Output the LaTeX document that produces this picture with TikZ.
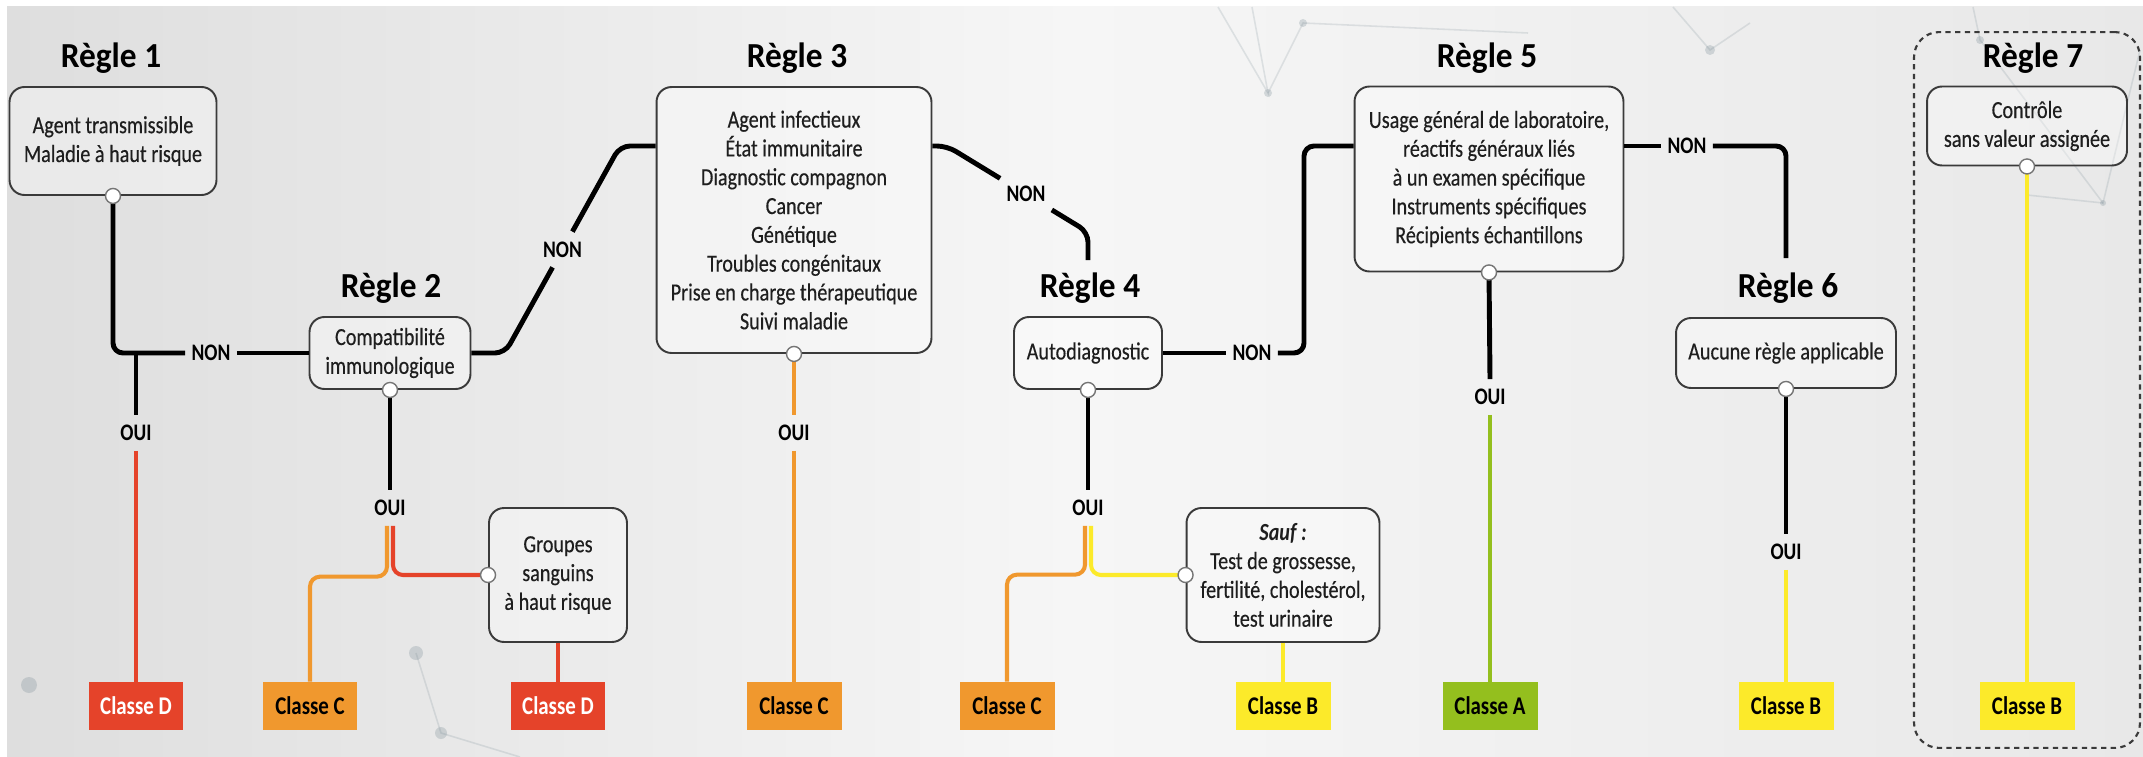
\documentclass[tikz,border=0pt]{standalone}
\usepackage{fontspec}
\setmainfont{Carlito}[FakeStretch=0.82,
  UprightFeatures={FakeBold=0.35},ItalicFeatures={FakeBold=0.35}]
\newfontfamily\titlefont{Carlito}[FakeStretch=0.95]
\usepackage{tikz}
\usetikzlibrary{calc,positioning}
\definecolor{boxgrey}{RGB}{58,58,58}
\definecolor{inkgrey}{RGB}{30,30,30}
\definecolor{classred}{RGB}{229,67,42}
\definecolor{classorange}{RGB}{240,152,46}
\definecolor{classyellow}{RGB}{252,234,42}
\definecolor{classgreen}{RGB}{148,191,30}
\definecolor{bgleft}{RGB}{222,222,222}
\definecolor{bgmid}{RGB}{246,246,246}
\definecolor{bgright}{RGB}{232,232,232}
\definecolor{netgrey}{RGB}{110,130,140}
\tikzset{
  rulebox/.style={draw=boxgrey,line width=1.1pt,rounded corners=0.3cm,
    fill=white,fill opacity=0.35,text opacity=1,align=center,inner sep=0pt,
    text=inkgrey,font=\fontsize{14}{16.4}\selectfont},
  ruletitle/.style={anchor=base,inner sep=0pt,
    font=\titlefont\bfseries\fontsize{20}{24}\selectfont},
  yesno/.style={inner xsep=3.5pt,inner ysep=5.5pt,
    font=\bfseries\fontsize{13.5}{15}\selectfont},
  classbox/.style={minimum width=1.9cm,minimum height=0.96cm,inner sep=0pt,
    font=\bfseries\fontsize{14.5}{16}\selectfont},
  dot/.style={circle,draw=boxgrey!70,line width=0.8pt,fill=white,
    minimum size=0.3cm,inner sep=0pt},
  blackline/.style={line width=2.8pt,draw=black,rounded corners=0.2cm},
  redline/.style={line width=2.3pt,draw=classred,rounded corners=0.2cm},
  orangeline/.style={line width=2.3pt,draw=classorange,rounded corners=0.2cm},
  yellowline/.style={line width=2.3pt,draw=classyellow,rounded corners=0.2cm},
  greenline/.style={line width=2.3pt,draw=classgreen,rounded corners=0.2cm}
}

\begin{document}
\begin{tikzpicture}[x=0.02cm,y=-0.02cm]
  \useasboundingbox (0,0) rectangle (2143,757);
  \fill[white] (0,0) rectangle (2143,757);
  \shade[left color=bgleft,right color=bgright,middle color=bgmid]
    (7,7) rectangle (2143,757);
  % faint network behind the chart
  \begin{scope}[draw=netgrey,draw opacity=0.18,line width=0.9pt]
    \draw (1218,7) -- (1268,93) -- (1252,7);
    \draw (1268,93) -- (1303,23) -- (1528,33);
    \draw (1673,7) -- (1710,50) -- (1750,23);
    \draw (1973,7) -- (1980,40) -- (2103,203) -- (2140,50);
    \draw (2027,195) -- (2103,203);
    \draw (416,653) -- (441,733) -- (520,757);
  \end{scope}
  \begin{scope}[fill=netgrey,fill opacity=0.25]
    \fill (1268,93) circle (4); \fill (1303,23) circle (4);
    \fill (1710,50) circle (5); \fill (1980,40) circle (4);
    \fill (2103,203) circle (3); \fill (29,685) circle (8);
    \fill (416,653) circle (7); \fill (441,733) circle (6);
  \end{scope}

  % titles
  \node[ruletitle] (t1) at (111,68) {Règle 1};
  \node[ruletitle] (t2) at (391,297) {Règle 2};
  \node[ruletitle] (t3) at (797,68) {Règle 3};
  \node[ruletitle] (t4) at (1090,297) {Règle 4};
  \node[ruletitle] (t5) at (1487,68) {Règle 5};
  \node[ruletitle] (t6) at (1788,297) {Règle 6};
  \node[ruletitle] (t7) at (2033,68) {Règle 7};

  % rule boxes
  \node[rulebox,minimum width=4.14cm,minimum height=2.16cm] (r1) at (113,141)
    {Agent transmissible\\Maladie à haut risque};
  \node[rulebox,minimum width=3.22cm,minimum height=1.44cm] (r2) at (390,353)
    {Compatibilité\\immunologique};
  \node[rulebox,minimum width=5.5cm,minimum height=5.32cm] (r3) at (794,220)
    {Agent infectieux\\État immunitaire\\Diagnostic compagnon\\Cancer\\
     Génétique\\Troubles congénitaux\\Prise en charge thérapeutique\\
     Suivi maladie};
  \node[rulebox,minimum width=2.96cm,minimum height=1.44cm] (r4) at (1088,353)
    {Autodiagnostic};
  \node[rulebox,minimum width=5.38cm,minimum height=3.7cm] (r5) at (1489,179)
    {Usage général de laboratoire,\\réactifs généraux liés\\
     à un examen spécifique\\Instruments spécifiques\\Récipients échantillons};
  \node[rulebox,minimum width=4.4cm,minimum height=1.4cm] (r6) at (1786,353)
    {Aucune règle applicable};
  \node[rulebox,minimum width=4.0cm,minimum height=1.58cm] (r7) at (2027,126)
    {Contrôle\\sans valeur assignée};
  \node[rulebox,minimum width=2.76cm,minimum height=2.68cm] (grp) at (558,575)
    {Groupes\\sanguins\\à haut risque};
  \node[rulebox,minimum width=3.86cm,minimum height=2.68cm] (sauf) at (1283,575)
    {\textbf{\textit{Sauf~:}}\\Test de grossesse,\\fertilité, cholestérol,\\
     test urinaire};
  \node[draw=boxgrey,line width=1.2pt,dash pattern=on 3pt off 2.5pt,
    rounded corners=0.5cm,minimum width=4.52cm,minimum height=14.32cm]
    (box7) at (2027,390) {};

  % classes
  \node[classbox,fill=classred,text=white] (cd1) at (136,706) {Classe D};
  \node[classbox,fill=classorange] (cc2) at (310,706) {Classe C};
  \node[classbox,fill=classred,text=white] (cd2) at (558,706) {Classe D};
  \node[classbox,fill=classorange] (cc3) at (794,706) {Classe C};
  \node[classbox,fill=classorange] (cc4) at (1007,706) {Classe C};
  \node[classbox,fill=classyellow] (cb4) at (1283,706) {Classe B};
  \node[classbox,fill=classgreen] (ca5) at (1490,706) {Classe A};
  \node[classbox,fill=classyellow] (cb6) at (1786,706) {Classe B};
  \node[classbox,fill=classyellow] (cb7) at (2027,706) {Classe B};

  % oui / non
  \node[yesno] (non1) at (211,353) {NON};
  \node[yesno] (oui1) at (136,433) {OUI};
  \node[yesno] (oui2) at (390,508) {OUI};
  \node[yesno] (oui3) at (794,433) {OUI};
  \node[yesno] (oui4) at (1088,508) {OUI};
  \node[yesno] (non4) at (1252,353) {NON};
  \node[yesno] (oui5) at (1490,397) {OUI};
  \node[yesno] (non5) at (1687,146) {NON};
  \node[yesno] (oui6) at (1786,552) {OUI};
  \coordinate (j1) at (136,353);
  \coordinate (k2) at (505,353);
  \coordinate (k3) at (620,146);
  \coordinate (k4) at (947,146);
  \coordinate (k5) at (1088,232);
  \coordinate (e3) at (1088,260);
  \coordinate (k6) at (1304,146);
  \coordinate (e5) at (1786,258);
  \node[yesno] (non2) at ($(k2)!0.5!(k3)$) {NON};
  \node[yesno] (non3) at ($(k4)!0.56!(k5)$) {NON};

  % regle 1
  \draw[blackline] (r1.south) |- (non1.west);
  \draw[blackline] (non1.east) -- (r2.west);
  \draw[blackline] (j1) -- (oui1.north);
  \draw[redline] (oui1.south) -- (cd1.north);
  % regle 2
  \draw[blackline] (r2.east) -- (k2) -- (non2);
  \draw[blackline] (non2) -- (k3) -- (r3.west |- k3);
  \draw[blackline] (r2.south) -- (oui2.north);
  \draw[orangeline] ($(oui2.south)+(-3,0)$) |- ($(cc2.north)+(0,-105)$)
    -- (cc2.north);
  \draw[redline] ($(oui2.south)+(3,0)$) |- (grp.west);
  \draw[redline] (grp.south) -- (cd2.north);
  % regle 3
  \draw[orangeline] (r3.south) -- (oui3.north);
  \draw[orangeline] (oui3.south) -- (cc3.north);
  \draw[blackline] (r3.east |- k4) -- (k4) -- (non3);
  \draw[blackline] (non3) -- (k5) -- (e3);
  % regle 4
  \draw[blackline] (r4.south) -- (oui4.north);
  \draw[orangeline] ($(oui4.south)+(-3,0)$) |- ($(cc4.north)+(0,-107)$)
    -- (cc4.north);
  \draw[yellowline] ($(oui4.south)+(3,0)$) |- (sauf.west);
  \draw[yellowline] (sauf.south) -- (cb4.north);
  \draw[blackline] (r4.east) -- (non4.west);
  \draw[blackline] (non4.east) -| (k6) -- (r5.west |- k6);
  % regle 5
  \draw[blackline] (r5.south) -- (oui5.north);
  \draw[greenline] (oui5.south) -- (ca5.north);
  \draw[blackline] (r5.east |- k6) -- (non5.west);
  \draw[blackline] (non5.east) -| (e5);
  % regle 6 et 7
  \draw[blackline] (r6.south) -- (oui6.north);
  \draw[yellowline] (oui6.south) -- (cb6.north);
  \draw[yellowline] (r7.south) -- (cb7.north);

  \foreach \n in {r1,r2,r3,r4,r5,r6,r7}
    \node[dot] at (\n.south) {};
  \node[dot] at (grp.west) {};
  \node[dot] at (sauf.west) {};
\end{tikzpicture}
\end{document}
